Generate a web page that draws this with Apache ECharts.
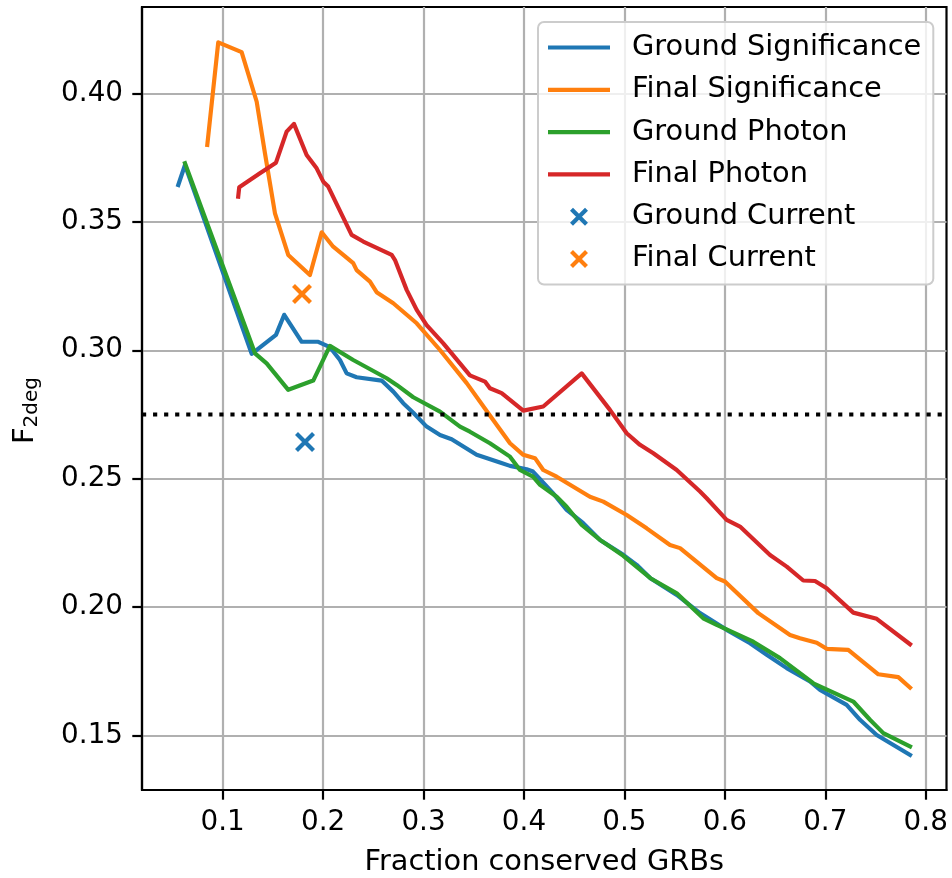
<!DOCTYPE html>
<html>
<head>
<meta charset="utf-8">
<script src="https://cdn.jsdelivr.net/npm/echarts@6/dist/echarts.min.js"></script>
<style>
html,body{margin:0;padding:0;background:#fff;}
#chart{width:952px;height:878px;}
</style>
</head>
<body>
<div id="chart"></div>
<script>
// ---- data ----
const xGroundSig = [0.0558,0.0625,0.1289,0.1531,0.1613,0.1787,0.1952,0.2068,0.2168,0.2235,0.2334,0.2583,0.2699,0.2798,0.2898,0.3031,0.3164,0.3280,0.3529,0.3761,0.3861,0.4027,0.4090,0.4160,0.4289,0.4425,0.4588,0.4757,0.4989,0.5122,0.5259,0.5521,0.5753,0.6018,0.6251,0.6417,0.6616,0.6848,0.6948,0.7213,0.7346,0.7512,0.7844];
const yGroundSig = [0.3643,0.3721,0.2986,0.3060,0.3138,0.3033,0.3033,0.3012,0.2962,0.2910,0.2895,0.2882,0.2839,0.2794,0.2757,0.2703,0.2670,0.2654,0.2593,0.2563,0.2550,0.2537,0.2528,0.2498,0.2444,0.2379,0.2328,0.2262,0.2204,0.2165,0.2113,0.2048,0.1977,0.1912,0.1860,0.1815,0.1763,0.1711,0.1678,0.1620,0.1562,0.1503,0.1425];

const xFinalSig = [0.0847,0.0956,0.1189,0.1339,0.1421,0.1521,0.1653,0.1869,0.1986,0.2101,0.2201,0.2300,0.2334,0.2467,0.2533,0.2699,0.2932,0.3164,0.3430,0.3645,0.3861,0.3993,0.4110,0.4192,0.4326,0.4657,0.4790,0.5023,0.5222,0.5454,0.5554,0.5919,0.6001,0.6333,0.6649,0.6748,0.6915,0.7014,0.7229,0.7412,0.7528,0.7727,0.7844];
const yFinalSig = [0.3799,0.4198,0.4160,0.3967,0.3767,0.3533,0.3371,0.3293,0.3459,0.3403,0.3371,0.3339,0.3312,0.3267,0.3226,0.3183,0.3105,0.3001,0.2872,0.2755,0.2638,0.2593,0.2580,0.2534,0.2508,0.2430,0.2411,0.2359,0.2307,0.2242,0.2230,0.2113,0.2100,0.1977,0.1892,0.1879,0.1862,0.1838,0.1834,0.1776,0.1739,0.1728,0.1687];

const xGroundPho = [0.0625,0.1322,0.1438,0.1653,0.1902,0.2068,0.2300,0.2633,0.2733,0.2898,0.3164,0.3363,0.3462,0.3661,0.3861,0.3960,0.4090,0.4160,0.4326,0.4425,0.4575,0.4757,0.4989,0.5259,0.5521,0.5785,0.5919,0.6283,0.6549,0.6881,0.7279,0.7445,0.7578,0.7844];
const yGroundPho = [0.3728,0.2988,0.2949,0.2846,0.2882,0.3017,0.2962,0.2891,0.2865,0.2817,0.2761,0.2703,0.2683,0.2638,0.2586,0.2534,0.2508,0.2476,0.2430,0.2391,0.2320,0.2262,0.2200,0.2113,0.2054,0.1957,0.1931,0.1866,0.1802,0.1704,0.1633,0.1562,0.1510,0.1458];

const xFinalPho = [0.1155,0.1165,0.1371,0.1531,0.1637,0.1710,0.1836,0.1936,0.2002,0.2051,0.2284,0.2400,0.2683,0.2716,0.2832,0.2932,0.3031,0.3197,0.3462,0.3612,0.3661,0.3778,0.3993,0.4192,0.4575,0.4856,0.5023,0.5155,0.5288,0.5521,0.5753,0.5819,0.6018,0.6151,0.6450,0.6616,0.6781,0.6898,0.7014,0.7279,0.7512,0.7844];
const yFinalPho = [0.3598,0.3634,0.3689,0.3730,0.3851,0.3881,0.3760,0.3708,0.3656,0.3637,0.3449,0.3423,0.3371,0.3351,0.3235,0.3157,0.3098,0.3027,0.2902,0.2878,0.2852,0.2833,0.2765,0.2781,0.2910,0.2768,0.2677,0.2632,0.2599,0.2534,0.2450,0.2424,0.2340,0.2314,0.2203,0.2158,0.2104,0.2102,0.2074,0.1979,0.1955,0.1856];

const groundCurrent = [0.182, 0.2643];
const finalCurrent = [0.179, 0.3219];
const threshold = 0.275;

const xTicks = [0.1,0.2,0.3,0.4,0.5,0.6,0.7,0.8];
const yTicks = [0.15,0.20,0.25,0.30,0.35,0.40];

const seriesNames = ['Ground Significance','Final Significance','Ground Photon','Final Photon','Ground Current','Final Current'];
const colors = ['#1f77b4','#ff7f0e','#2ca02c','#d62728'];

// ---- chart ----
const X_MIN = 0.0197, X_MAX = 0.8207, Y_MIN = 0.12887, Y_MAX = 0.43358;
const zip = (xs, ys) => xs.map((x, i) => [x, ys[i]]);
const LW = 4.17;
const FS = 27.8;
const FS2 = 28.8;
const FONT = 'DejaVu Sans';
const xPath = 'path://M0,0L10,10M10,0L0,10';
const linePath = 'path://M0,0L62,0L62,4.2L0,4.2Z';

function lineSeries(name, xs, ys, color) {
  return {
    type: 'line', name, data: zip(xs, ys), symbol: 'none', showSymbol: false,
    lineStyle: { color, width: LW, join: 'round', cap: 'square' },
    itemStyle: { color },
    animation: false, clip: true
  };
}
function crossSeries(name, pt, color) {
  return {
    type: 'scatter', name, data: [pt], symbol: xPath, symbolSize: 17,
    itemStyle: { color: 'rgba(0,0,0,0)', borderColor: color, borderWidth: 4.2, opacity: 1 },
    emphasis: { disabled: true },
    animation: false
  };
}

const legendData = seriesNames.map((n, i) => i < 4
  ? { name: n, icon: linePath, itemStyle: { color: colors[i] } }
  : { name: n, icon: xPath, itemStyle: { color: 'rgba(0,0,0,0)', borderColor: colors[i - 4], borderWidth: 4.2, opacity: 1 } });

const chart = echarts.init(document.getElementById('chart'), null, { renderer: 'canvas' });
const option = {
  backgroundColor: '#fff',
  animation: false,
  textStyle: { fontFamily: FONT },
  grid: { left: 142, top: 7, right: 5.5, bottom: 88, show: true, containLabel: false, outerBoundsMode: 'none',
    borderColor: '#000', borderWidth: 2.2, backgroundColor: 'transparent' },
  legend: {
    orient: 'vertical', left: 538, top: 22,
    padding: [11, 12, 11, 10],
    itemWidth: 62, itemHeight: 15, itemGap: 13.3,
    backgroundColor: 'rgba(255,255,255,0.8)', borderColor: '#cccccc', borderWidth: 2, borderRadius: 6,
    textStyle: { fontFamily: FONT, fontSize: FS2, color: '#000', lineHeight: 28, padding: [0, 0, 0, 17] },
    data: legendData
  },
  xAxis: {
    type: 'value', min: X_MIN, max: X_MAX,
    splitNumber: 8, minInterval: 0.1, maxInterval: 0.1,
    name: 'Fraction conserved GRBs', nameLocation: 'middle', nameGap: 58,
    nameTextStyle: { fontFamily: FONT, fontSize: FS2, color: '#000' },
    axisLine: { show: true, onZero: false, lineStyle: { color: '#000', width: 2.2 } },
    axisTick: { show: true, length: 9.7, inside: false, lineStyle: { color: '#000', width: 2.2 }, customValues: xTicks },
    axisLabel: { show: true, margin: 19, fontFamily: FONT, fontSize: FS, color: '#000', customValues: xTicks,
      formatter: v => (Math.round(v * 10) / 10).toFixed(1) },
    splitLine: { show: true, lineStyle: { color: '#b0b0b0', width: 2.2 } }
  },
  yAxis: {
    type: 'value', min: Y_MIN, max: Y_MAX,
    splitNumber: 6, minInterval: 0.05, maxInterval: 0.05,
    name: '{a|F}{b|2deg}', nameLocation: 'middle', nameGap: 100, nameRotate: 90,
    nameTextStyle: {
      fontFamily: FONT, color: '#000', padding: [0, 24, 0, 0],
      rich: {
        a: { fontFamily: FONT, fontSize: FS2, color: '#000' },
        b: { fontFamily: FONT, fontSize: 20, color: '#000', padding: [12, 0, 0, 0] }
      }
    },
    axisLine: { show: true, onZero: false, lineStyle: { color: '#000', width: 2.2 } },
    axisTick: { show: true, length: 9.7, inside: false, lineStyle: { color: '#000', width: 2.2 }, customValues: yTicks },
    axisLabel: { show: true, margin: 19, fontFamily: FONT, fontSize: FS, color: '#000', customValues: yTicks,
      formatter: v => (Math.round(v * 100) / 100).toFixed(2) },
    splitLine: { show: true, lineStyle: { color: '#b0b0b0', width: 2.2 } }
  },
  series: [
    lineSeries(seriesNames[0], xGroundSig, yGroundSig, colors[0]),
    lineSeries(seriesNames[1], xFinalSig, yFinalSig, colors[1]),
    lineSeries(seriesNames[2], xGroundPho, yGroundPho, colors[2]),
    lineSeries(seriesNames[3], xFinalPho, yFinalPho, colors[3]),
    crossSeries(seriesNames[4], groundCurrent, colors[0]),
    crossSeries(seriesNames[5], finalCurrent, colors[1]),
    {
      type: 'line', name: 'threshold', symbol: 'none', showSymbol: false, animation: false, silent: true,
      data: [[X_MIN, threshold], [X_MAX, threshold]],
      lineStyle: { color: '#000', type: [4.17, 6.88], width: LW, cap: 'butt' },
      z: 3
    }
  ]
};
chart.setOption(option);
</script>
</body>
</html>
